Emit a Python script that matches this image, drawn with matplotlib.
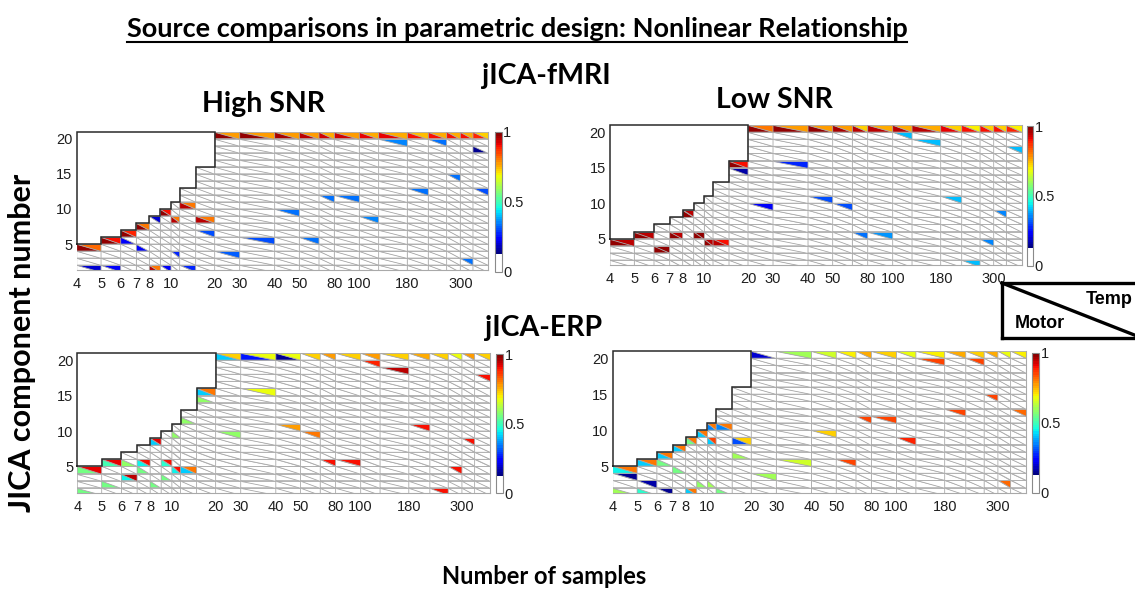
import numpy as np
import matplotlib
matplotlib.use("Agg")
import matplotlib.pyplot as plt
from matplotlib.collections import PolyCollection
from matplotlib.colors import ListedColormap, Normalize
from matplotlib.cm import ScalarMappable
from matplotlib.lines import Line2D

# ---------------------------------------------------------------- data
sample_sizes = [4, 5, 6, 7, 8, 9, 10, 12, 15, 20, 30, 40, 50, 60, 80, 100,
                150, 180, 200, 250, 300, 350]
last_bound = 400
x_tick_values = [4, 5, 6, 7, 8, 10, 20, 30, 40, 50, 80, 100, 180, 300]
y_tick_values = [5, 10, 15, 20]
max_components = 20

# columns whose top row (component 20) is listed separately
top_row_cols = [20, 30, 40, 50, 60, 80, 100, 150, 180, 200, 250, 300, 350]

# jICA-fMRI, high SNR
fmri_high_top_motor = [0.97, 0.97, 0.96, 0.95, 0.93, 0.93, 0.92, 0.91, 0.90, 0.90, 0.90, 0.90, 0.88]
fmri_high_top_temp = [0.78, 0.78, 0.78, 0.78, 0.76, 0.78, 0.76, 0.76, 0.74, 0.76, 0.75, 0.75, 0.72]
fmri_high_motor = [(4, 4, 0.97), (5, 5, 0.97), (6, 6, 0.97), (6, 5, 0.22), (7, 7, 0.97),
                   (7, 4, 0.24), (8, 1, 0.95), (9, 9, 0.97), (10, 8, 0.95), (12, 10, 0.95),
                   (15, 8, 0.95), (350, 18, 0.15)]
fmri_high_temp = [(4, 4, 0.82), (4, 1, 0.20), (5, 5, 0.90), (5, 1, 0.22), (6, 6, 0.88),
                  (7, 7, 0.80), (8, 8, 0.20), (8, 1, 0.80), (9, 9, 0.90), (9, 1, 0.22),
                  (10, 8, 0.80), (10, 3, 0.28), (12, 10, 0.80), (12, 1, 0.28), (15, 8, 0.80),
                  (15, 6, 0.30), (20, 3, 0.32), (30, 5, 0.30), (40, 9, 0.33), (50, 5, 0.33),
                  (60, 11, 0.33), (80, 11, 0.33), (100, 8, 0.35), (150, 19, 0.35),
                  (180, 12, 0.33), (200, 19, 0.33), (250, 14, 0.33), (300, 2, 0.33),
                  (350, 12, 0.30)]

# jICA-fMRI, low SNR
fmri_low_top_motor = [0.97, 0.97, 0.97, 0.96, 0.95, 0.95, 0.95, 0.95, 0.92, 0.90, 0.90, 0.90, 0.88]
fmri_low_top_temp = [0.80, 0.78, 0.78, 0.78, 0.72, 0.76, 0.76, 0.76, 0.72, 0.70, 0.72, 0.72, 0.70]
fmri_low_motor = [(4, 4, 0.97), (5, 5, 0.97), (6, 3, 0.97), (7, 5, 0.97), (8, 8, 0.97),
                  (9, 5, 0.97), (10, 4, 0.97), (12, 4, 0.95), (15, 15, 0.97)]
fmri_low_temp = [(4, 4, 0.95), (5, 5, 0.95), (6, 3, 0.97), (7, 5, 0.95), (8, 8, 0.95),
                 (9, 5, 0.97), (10, 4, 0.95), (12, 4, 0.90), (15, 15, 0.90), (15, 14, 0.17),
                 (20, 9, 0.22), (30, 15, 0.28), (40, 10, 0.30), (50, 9, 0.30), (60, 5, 0.33),
                 (80, 5, 0.37), (100, 19, 0.40), (150, 18, 0.40), (180, 10, 0.40),
                 (200, 1, 0.40), (250, 4, 0.35), (300, 8, 0.35), (350, 17, 0.40)]

# jICA-ERP, left panel
erp_left_top_motor = [0.42, 0.25, 0.15, 0, 0, 0, 0, 0, 0, 0, 0, 0, 0]
erp_left_top_temp = [0.72, 0.68, 0.68, 0.72, 0.78, 0.72, 0.78, 0.72, 0.75, 0.72, 0.68, 0.78, 0.72]
erp_left_motor = [(4, 4, 0.55), (4, 1, 0.55), (5, 5, 0.50), (5, 2, 0.55), (6, 5, 0.58),
                  (6, 3, 0.45), (7, 5, 0.45), (7, 4, 0.55), (8, 8, 0.42), (8, 2, 0.55),
                  (9, 5, 0.48), (9, 3, 0.55), (10, 9, 0.58), (10, 4, 0.45), (12, 11, 0.58),
                  (12, 4, 0.42), (15, 15, 0.42), (15, 14, 0.58)]
erp_left_temp = [(4, 4, 0.92), (5, 5, 0.92), (6, 3, 0.95), (7, 5, 0.90), (8, 8, 0.92),
                 (9, 5, 0.90), (10, 4, 0.90), (12, 4, 0.80), (15, 15, 0.80), (20, 9, 0.58),
                 (30, 15, 0.68), (40, 10, 0.78), (50, 9, 0.80), (60, 5, 0.90), (80, 5, 0.90),
                 (100, 19, 0.88), (150, 18, 0.95), (180, 10, 0.90), (200, 1, 0.90),
                 (250, 4, 0.90), (300, 8, 0.90), (350, 17, 0.90)]

# jICA-ERP, right panel
erp_right_top_motor = [0.20, 0, 0, 0, 0, 0, 0, 0, 0, 0, 0, 0, 0]
erp_right_top_temp = [0, 0.60, 0.65, 0.70, 0.75, 0.72, 0.68, 0.70, 0.75, 0.72, 0.75, 0.68, 0.70]
erp_right_motor = [(4, 4, 0.45), (4, 1, 0.60), (5, 5, 0.42), (5, 1, 0.48), (6, 6, 0.42),
                   (6, 5, 0.55), (7, 7, 0.42), (7, 4, 0.55), (8, 8, 0.55), (8, 1, 0.42),
                   (9, 9, 0.42), (9, 2, 0.58), (10, 10, 0.35), (10, 8, 0.42), (10, 2, 0.60),
                   (12, 10, 0.35), (12, 1, 0.55), (15, 8, 0.30), (15, 6, 0.60)]
erp_right_temp = [(4, 4, 0.80), (4, 3, 0.15), (5, 5, 0.80), (5, 2, 0.16), (6, 6, 0.80),
                  (6, 1, 0.15), (7, 7, 0.80), (8, 8, 0.80), (8, 1, 0.80), (9, 9, 0.80),
                  (10, 10, 0.80), (10, 8, 0.85), (12, 10, 0.80), (15, 8, 0.72), (20, 3, 0.60),
                  (30, 5, 0.65), (40, 9, 0.72), (50, 5, 0.85), (60, 11, 0.85), (80, 11, 0.85),
                  (100, 8, 0.88), (150, 19, 0.85), (180, 12, 0.85), (200, 19, 0.85),
                  (250, 14, 0.85), (300, 2, 0.82), (350, 12, 0.82)]

# ---------------------------------------------------------------- style
W, H = 1135, 597
fig = plt.figure(figsize=(W / 100, H / 100), dpi=100)
fig.patch.set_facecolor("white")

HEAD_FONT = ["Lato", "DejaVu Sans"]
TICK_FONT = ["Liberation Sans", "DejaVu Sans"]
TICK_SIZE = 10.5

# jet with the lowest eighth shown as white
_jet = plt.get_cmap("jet")(np.linspace(0, 1, 56))
cmap = ListedColormap(np.vstack([np.ones((8, 4)), _jet]))
norm = Normalize(0, 1)

# relative screen width of each sample-size column
col_bounds = sample_sizes + [last_bound]
col_edge_frac = np.array([0, 73, 132, 179, 218, 251, 283, 309, 357, 414, 489, 594,
                          668, 727, 773, 848, 906, 992, 1055, 1110, 1151, 1189, 1235]) / 1235.0


def _fwd(x):
    return np.interp(np.asarray(x, dtype=float), col_bounds, col_edge_frac)


def _inv(u):
    return np.interp(np.asarray(u, dtype=float), col_edge_frac, col_bounds)


def px_rect(left, top, right, bottom):
    return [left / W, 1 - bottom / H, (right - left) / W, (bottom - top) / H]


def lookup(top_vals, cells):
    d = {(n, max_components): v for n, v in zip(top_row_cols, top_vals)}
    for n, k, v in cells:
        d[(n, k)] = v
    return d


def draw_panel(rect, cbar_rect, top_motor, top_temp, motor_cells, temp_cells):
    motor = lookup(top_motor, motor_cells)
    temp = lookup(top_temp, temp_cells)
    ax = fig.add_axes(px_rect(*rect))
    ax.set_xscale("function", functions=(_fwd, _inv))

    polys, vals = [], []
    for i, n in enumerate(sample_sizes):
        x0, x1 = col_bounds[i], col_bounds[i + 1]
        for k in range(1, min(n, max_components) + 1):
            # lower-left half: Motor, upper-right half: Temp
            polys.append([(x0, k), (x1, k), (x0, k + 1)])
            vals.append(motor.get((n, k), 0.0))
            polys.append([(x0, k + 1), (x1, k + 1), (x1, k)])
            vals.append(temp.get((n, k), 0.0))
    pc = PolyCollection(polys, array=np.array(vals), cmap=cmap, norm=norm,
                        edgecolors="#a9a9a9", linewidths=0.6)
    ax.add_collection(pc)

    # staircase outline of the region without components
    full = next(n for n in sample_sizes if n >= max_components)
    xs = [sample_sizes[0], sample_sizes[0], full]
    ys = [min(sample_sizes[0], max_components) + 1, max_components + 1, max_components + 1]
    for i in range(sample_sizes.index(full) - 1, -1, -1):
        h = min(sample_sizes[i], max_components) + 1
        xs += [col_bounds[i + 1], sample_sizes[i]]
        ys += [h, h]
    ax.plot(xs, ys, color="#2a2a2a", lw=1.1, clip_on=False, solid_joinstyle="miter")

    ax.set_xlim(sample_sizes[0], last_bound)
    ax.set_ylim(1.3, max_components + 1)
    ax.set_xticks(x_tick_values)
    ax.set_xticklabels([str(v) for v in x_tick_values])
    ax.set_yticks(y_tick_values)
    ax.set_yticklabels([str(v) for v in y_tick_values])
    ax.xaxis.set_minor_locator(matplotlib.ticker.NullLocator())
    ax.tick_params(length=0, labelsize=TICK_SIZE, colors="#1e1e1e")
    ax.tick_params(axis="x", pad=5)
    ax.tick_params(axis="y", pad=3)
    for lab in ax.get_xticklabels() + ax.get_yticklabels():
        lab.set_family(TICK_FONT)
    for side in ("left", "top"):
        ax.spines[side].set_visible(False)
    for side in ("right", "bottom"):
        ax.spines[side].set_color("#a9a9a9")
        ax.spines[side].set_linewidth(0.8)

    cax = fig.add_axes(px_rect(*cbar_rect))
    cb = fig.colorbar(ScalarMappable(norm=norm, cmap=cmap), cax=cax, ticks=[0, 0.5, 1])
    cb.ax.set_yticklabels(["0", "0.5", "1"], family=TICK_FONT)
    cb.ax.tick_params(length=0, labelsize=TICK_SIZE, pad=1, colors="#1e1e1e")
    cb.outline.set_edgecolor("#8a8a8a")
    cb.outline.set_linewidth(0.8)
    return ax


draw_panel((76.7, 131.7, 488.3, 270.0), (495.0, 131.7, 501.7, 271.7),
           fmri_high_top_motor, fmri_high_top_temp, fmri_high_motor, fmri_high_temp)
draw_panel((610.0, 125.0, 1021.7, 265.0), (1026.7, 126.0, 1033.3, 265.7),
           fmri_low_top_motor, fmri_low_top_temp, fmri_low_motor, fmri_low_temp)
draw_panel((77.3, 353.0, 490.0, 492.7), (496.0, 354.0, 503.3, 493.3),
           erp_left_top_motor, erp_left_top_temp, erp_left_motor, erp_left_temp)
draw_panel((612.7, 351.0, 1026.0, 492.7), (1031.7, 352.7, 1039.3, 492.7),
           erp_right_top_motor, erp_right_top_temp, erp_right_motor, erp_right_temp)


def ftext(x, y, s, size, **kw):
    return fig.text(x / W, 1 - y / H, s, fontsize=size, fontweight="bold", **kw)


title = ftext(517, 37, "Source comparisons in parametric design: Nonlinear Relationship", 19.5,
              ha="center", va="baseline", family=HEAD_FONT)
ftext(546, 76, "jICA-fMRI", 20.5, ha="center", va="center", family=HEAD_FONT)
ftext(263, 104, "High SNR", 20.5, ha="center", va="center", family=HEAD_FONT)
ftext(774, 100, "Low SNR", 20.5, ha="center", va="center", family=HEAD_FONT)
ftext(544, 328, "jICA-ERP", 20.5, ha="center", va="center", family=HEAD_FONT)
ftext(544, 576, "Number of samples", 17, ha="center", va="center", family=HEAD_FONT)
ftext(22, 343, "JICA component number", 22, ha="center", va="center", rotation=90,
      family=HEAD_FONT)

# legend box: Motor (lower-left half) / Temp (upper-right half)
lx0, ly0, lx1, ly1 = 1002, 283, 1142, 338
for xs_, ys_ in (([lx0, lx1], [ly0, ly0]), ([lx0, lx1], [ly1, ly1]),
                 ([lx0, lx0], [ly0, ly1]), ([lx0, lx1], [ly0, ly1])):
    fig.add_artist(Line2D([x / W for x in xs_], [1 - y / H for y in ys_],
                          transform=fig.transFigure, color="black", lw=2.4,
                          solid_capstyle="projecting"))
ftext(1109, 300, "Temp", 13, ha="center", va="center", family=TICK_FONT)
ftext(1040, 323, "Motor", 13, ha="center", va="center", family=TICK_FONT)

# underline of the title
fig.canvas.draw()
bb = title.get_window_extent()
uy = 1 - 41.5 / H
fig.add_artist(Line2D([bb.x0 / W, bb.x1 / W], [uy, uy], transform=fig.transFigure,
                      color="black", lw=1.5))

fig.savefig("out.png", dpi=100, facecolor="white")
